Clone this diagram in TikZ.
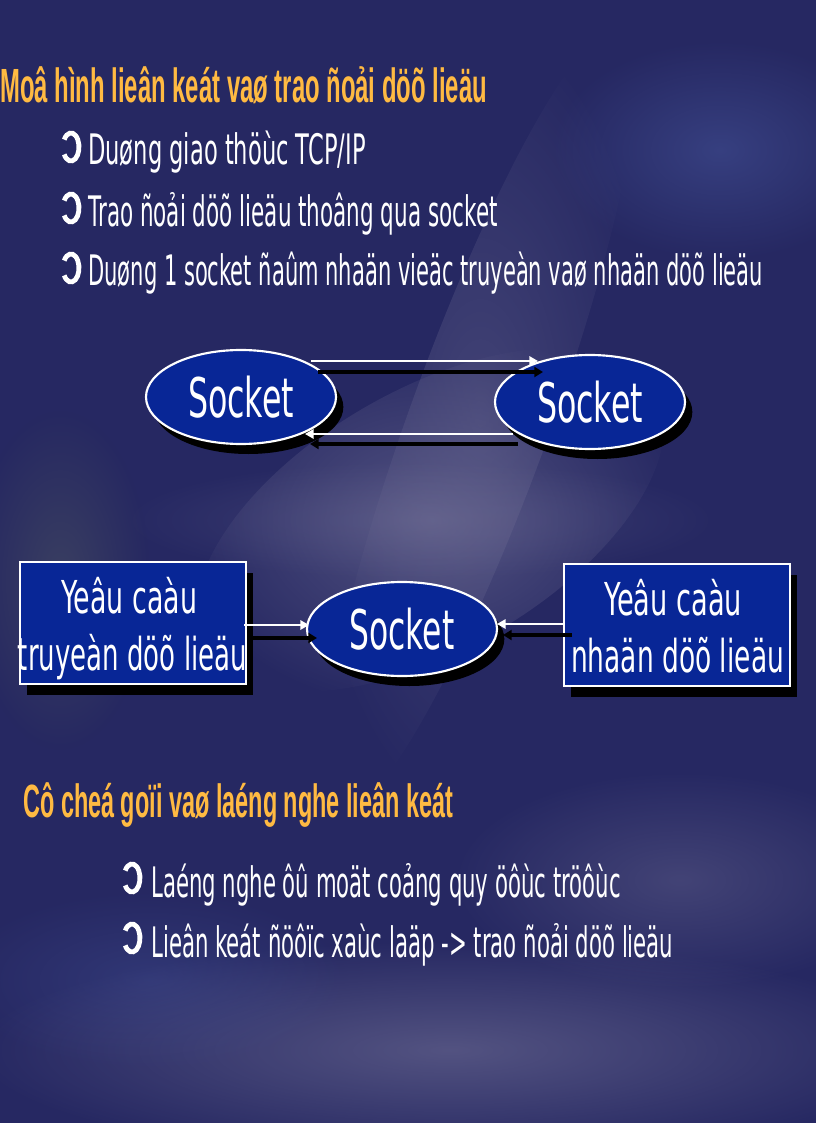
\documentclass[tikz,border=0pt]{standalone}
\usepackage{fontspec}
\setmainfont{DejaVu Sans}
\newfontfamily\titlefont{Liberation Sans}
\usetikzlibrary{shapes.geometric,arrows.meta,calc,shadows,fadings}
\definecolor{bgnavy}{RGB}{38,40,98}
\definecolor{hazec}{RGB}{120,118,155}
\definecolor{hazeb}{RGB}{75,92,165}
\definecolor{hazeg}{RGB}{95,105,95}
\definecolor{titleorange}{RGB}{255,186,66}
\definecolor{boxblue}{RGB}{8,38,150}
\tikzfading[name=softblob, inner color=transparent!0, outer color=transparent!100]
\newcommand\fitw[2]{\resizebox{#1}{\height}{#2}}
\newcommand\bulletring[2]{\draw[bmark] (#1,#2) ++(148:8 and 14) arc[start angle=148, end angle=-148, x radius=8, y radius=14];}
\begin{document}
\begin{tikzpicture}[x=0.75pt,y=-0.75pt,
  titletext/.style={anchor=base west, inner sep=0, text=titleorange, font=\titlefont\bfseries\fontsize{36}{39}\selectfont},
  btext/.style={anchor=base west, inner sep=0, text=white, font=\fontsize{31.5}{34}\selectfont},
  bmark/.style={draw=white, line width=3.6pt},
  sock/.style={ellipse, draw=white, line width=1.6pt, fill=boxblue, minimum width=142.5pt, minimum height=70.5pt, inner sep=0, text=white, font=\fontsize{41}{44}\selectfont, drop shadow={shadow xshift=5.5pt, shadow yshift=-7.5pt, opacity=1, fill=black}},
  reqbox/.style={rectangle, draw=white, line width=1.6pt, fill=boxblue, minimum width=169.5pt, minimum height=91.5pt, inner sep=0, drop shadow={shadow xshift=5.5pt, shadow yshift=-8pt, opacity=1, fill=black}},
  boxtext/.style={anchor=base, inner sep=0, text=white, font=\fontsize{34}{36}\selectfont},
  warr/.style={draw=white, line width=2pt, -{Triangle[length=6.5pt,width=7pt]}},
  barr/.style={draw=black, line width=2.6pt, -{Triangle[length=6.5pt,width=7.5pt]}},
  haze/.style={path fading=softblob}
]
\useasboundingbox (0,0) rectangle (816,1123);
% background
\fill[bgnavy] (0,0) rectangle (816,1123);
\begin{scope}
\clip (0,0) rectangle (816,1123);
\fill[hazec, opacity=0.55, haze, rotate around={30:(430,520)}] (430,520) ellipse [x radius=260, y radius=130];
\fill[hazec, opacity=0.35, haze, rotate around={-20:(480,420)}] (480,420) ellipse [x radius=70, y radius=420];
\fill[hazeb, opacity=0.45, haze] (720,150) ellipse [x radius=170, y radius=110];
\fill[hazec, opacity=0.55, haze] (450,1050) ellipse [x radius=480, y radius=110];
\fill[hazec, opacity=0.35, haze] (680,880) ellipse [x radius=230, y radius=110];
\fill[hazeg, opacity=0.35, haze] (60,580) ellipse [x radius=90, y radius=170];
\fill[hazeb, opacity=0.3, haze] (150,980) ellipse [x radius=200, y radius=90];
\fill[hazec, opacity=0.3, haze] (420,520) ellipse [x radius=300, y radius=60];
\end{scope}

% upper texts
\node[titletext] (t1) at (0,103) {\fitw{365pt}{Moâ hình lieân keát vaø trao ñoải döõ lieäu}};
\bulletring{71}{147}
\node[btext] (b1) at (88,165) {\fitw{208pt}{Duøng giao thöùc TCP/IP}};
\bulletring{71}{208}
\node[btext] (b2) at (88,226) {\fitw{307pt}{Trao ñoải döõ lieäu thoâng qua socket}};
\bulletring{71}{268}
\node[btext] (b3) at (88,286) {\fitw{506pt}{Duøng 1 socket ñaûm nhaän vieäc truyeàn vaø nhaän döõ lieäu}};

% socket pair
\node[sock] (e1) at (241,397) {\fitw{79.5pt}{Socket}};
\node[sock] (e2) at (590,402) {\fitw{79.5pt}{Socket}};
\coordinate (tw1) at ($(e1)+(70,-36)$);
\coordinate (tw2) at ($(e2)+(-52,-41)$);
\coordinate (tb1) at ($(e1)+(77,-25)$);
\coordinate (tb2) at ($(e2)+(-47,-30)$);
\coordinate (bw1) at ($(e2)+(-77,32)$);
\coordinate (bw2) at ($(e1)+(64,37)$);
\coordinate (bb1) at ($(e2)+(-72,42)$);
\coordinate (bb2) at ($(e1)+(69,47)$);
\draw[warr] (tw1) -- (tw2);
\draw[barr] (tb1) -- (tb2);
\draw[warr] (bw1) -- (bw2);
\draw[barr] (bb1) -- (bb2);

% request boxes and socket
\node[reqbox] (lb) at (133,623) {};
\node[reqbox] (rb) at (677,625) {};
\node[boxtext] (lt1) at (129,613) {\fitw{102pt}{Yeâu caàu}};
\node[boxtext] (lt2) at (132.5,670) {\fitw{171.75pt}{truyeàn döõ lieäu}};
\node[boxtext] (rt1) at (673,615) {\fitw{103.5pt}{Yeâu caàu}};
\node[boxtext] (rt2) at (677.5,672) {\fitw{159.75pt}{nhaän döõ lieäu}};
\node[sock] (e3) at (402,629) {\fitw{78.75pt}{Socket}};
\coordinate (lw1) at ($(lb)+(111,2)$);
\coordinate (lw2) at ($(e3)+(-93,-4)$);
\coordinate (lk1) at ($(lb)+(119,15)$);
\coordinate (lk2) at ($(e3)+(-85,9)$);
\coordinate (rw1) at ($(rb)+(-114,-1)$);
\coordinate (rw2) at ($(e3)+(95,-5)$);
\coordinate (rk1) at ($(rb)+(-105,10)$);
\coordinate (rk2) at ($(e3)+(101,6)$);
\draw[warr] (lw1) -- (lw2);
\draw[barr] (lk1) -- (lk2);
\draw[warr] (rw1) -- (rw2);
\draw[barr] (rk1) -- (rk2);

% lower texts
\node[titletext, font=\titlefont\bfseries\fontsize{35}{38}\selectfont] (t2) at (23,817) {\fitw{322.5pt}{Cô cheá goïi vaø laéng nghe lieân keát}};
\bulletring{132}{878}
\node[btext] (c1) at (151,897) {\fitw{352pt}{Laéng nghe ôû moät coảng quy öôùc tröôùc}};
\bulletring{132}{938}
\node[btext] (c2) at (151,957) {\fitw{391.5pt}{Lieân keát ñöôïc xaùc laäp -> trao ñoải döõ lieäu}};
\end{tikzpicture}
\end{document}
